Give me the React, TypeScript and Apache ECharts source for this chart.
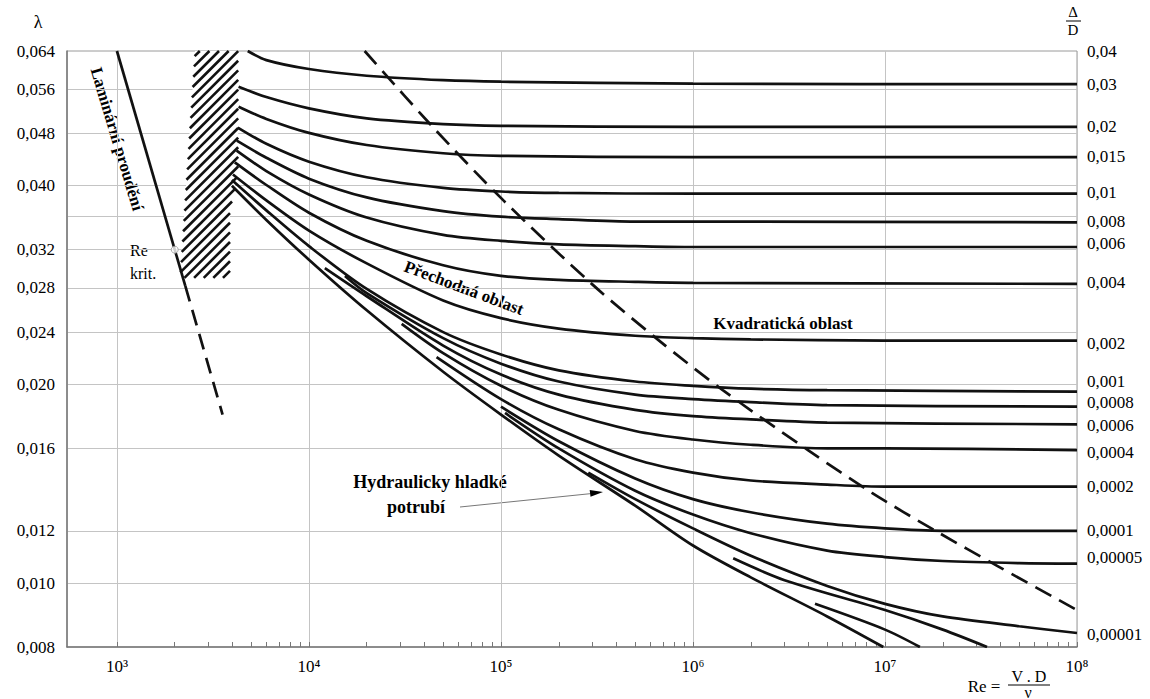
import React, { useEffect, useRef } from 'react';
import * as echarts from 'echarts';

const FONT = 'Liberation Serif';

// ---- axis ticks / labels ----
const Y_LABELS = [0.008, 0.01, 0.012, 0.016, 0.02, 0.024, 0.028, 0.032, 0.04, 0.048, 0.056, 0.064];
const Y_GRID = [0.01, 0.012, 0.016, 0.02, 0.024, 0.028, 0.032, 0.036, 0.04, 0.048, 0.056];
const RE_DECADES = [1e3, 1e4, 1e5, 1e6, 1e7, 1e8];
const RE_MINOR = [
  1e3, 2e3, 3e3, 4e3, 5e3, 6e3, 7e3, 8e3, 9e3,
  1e4, 2e4, 3e4, 4e4, 5e4, 6e4, 7e4, 8e4, 9e4,
  1e5, 2e5, 3e5, 4e5, 5e5, 6e5, 7e5, 8e5, 9e5,
  1e6, 2e6, 3e6, 4e6, 5e6, 6e6, 7e6, 8e6, 9e6,
  1e7, 2e7, 3e7, 4e7, 5e7, 6e7, 7e7, 8e7, 9e7, 1e8,
];
const RIGHT_LABELS = ['0,04', '0,03', '0,02', '0,015', '0,01', '0,008', '0,006', '0,004', '0,002', '0,001', '0,0008', '0,0006', '0,0004', '0,0002', '0,0001', '0,00005', '0,00001'];
const RIGHT_LABEL_POS = [0.064, 0.0569, 0.0492, 0.0443, 0.039, 0.0353, 0.0327, 0.0285, 0.0231, 0.0202, 0.01875, 0.0173, 0.01575, 0.0140, 0.0120, 0.01095, 0.00837];

// ---- curves: [Re, lambda] ----
const R_0_03 = [[4800, 0.064], [6000, 0.0620], [1e4, 0.0601], [2e4, 0.0587], [5e4, 0.0578], [1e5, 0.0575], [1e6, 0.0571], [1e8, 0.0570]];
const R_0_02 = [[4300, 0.0565], [6000, 0.0545], [1e4, 0.0524], [2e4, 0.0506], [5e4, 0.0496], [1e5, 0.0493], [1e6, 0.0491], [1e8, 0.0491]];
const R_0_015 = [[4300, 0.0527], [6000, 0.0505], [1e4, 0.0481], [2e4, 0.0461], [5e4, 0.0448], [1e5, 0.0444], [1e6, 0.0442], [1e8, 0.0442]];
const R_0_01 = [[4260, 0.0490], [6000, 0.0463], [1e4, 0.0435], [2e4, 0.0412], [5e4, 0.0397], [1e5, 0.0392], [2e5, 0.0390], [1e6, 0.0389], [1e8, 0.0389]];
const R_0_008 = [[4210, 0.0468], [6000, 0.0441], [1e4, 0.0410], [2e4, 0.0384], [5e4, 0.0366], [1e5, 0.0359], [2e5, 0.0356], [5e5, 0.0353], [1e6, 0.0353], [1e8, 0.0352]];
const R_0_006 = [[4200, 0.0452], [6000, 0.0421], [1e4, 0.0388], [2e4, 0.0358], [5e4, 0.0337], [1e5, 0.0330], [2e5, 0.0326], [5e5, 0.0324], [1e6, 0.0323], [1e8, 0.0323]];
const R_0_004 = [[4110, 0.0434], [6000, 0.0401], [1e4, 0.0364], [2e4, 0.0330], [5e4, 0.0303], [1e5, 0.0292], [2e5, 0.0288], [5e5, 0.0286], [1e6, 0.0285], [1e8, 0.0284]];
const R_0_002 = [[4020, 0.0416], [6000, 0.0380], [1e4, 0.0342], [2e4, 0.0305], [5e4, 0.0268], [1e5, 0.0252], [2e5, 0.0243], [5e5, 0.0237], [1e6, 0.0235], [2e6, 0.0234], [1e7, 0.0233], [1e8, 0.0233]];
const R_0_001 = [[3970, 0.0408], [6000, 0.0367], [1e4, 0.0324], [2e4, 0.0279], [5e4, 0.0240], [1e5, 0.0222], [2e5, 0.0210], [5e5, 0.0202], [1e6, 0.0199], [2e6, 0.0197], [5e6, 0.0196], [1e8, 0.0195]];
const R_0_0008 = [[1.54e4, 0.0292], [2e4, 0.0275], [5e4, 0.0235], [1e5, 0.0215], [2e5, 0.0202], [5e5, 0.0193], [1e6, 0.0190], [2e6, 0.0188], [5e6, 0.0186], [1e8, 0.0185]];
const R_0_0006 = [[1.21e4, 0.0300], [2e4, 0.0272], [5e4, 0.0229], [1e5, 0.0207], [2e5, 0.0193], [5e5, 0.0183], [1e6, 0.0179], [2e6, 0.0177], [5e6, 0.0175], [1e8, 0.0174]];
const R_0_0004 = [[3.04e4, 0.0247], [5e4, 0.0223], [1e5, 0.0199], [2e5, 0.0183], [5e5, 0.0170], [1e6, 0.0165], [2e6, 0.0162], [5e6, 0.0160], [1e7, 0.0160], [1e8, 0.0159]];
const R_0_0002 = [[4.62e4, 0.0220], [1e5, 0.0190], [2e5, 0.0171], [5e5, 0.0154], [1e6, 0.0147], [2e6, 0.0143], [5e6, 0.0141], [1e7, 0.0140], [1e8, 0.0140]];
const R_0_0001 = [[1.0e5, 0.0185], [2e5, 0.0164], [5e5, 0.0144], [1e6, 0.0134], [2e6, 0.0128], [5e6, 0.0123], [1e7, 0.0121], [2e7, 0.0120], [1e8, 0.0120]];
const R_0_00005 = [[1.05e5, 0.0181], [2e5, 0.0160], [5e5, 0.0138], [1e6, 0.0127], [2e6, 0.0119], [5e6, 0.0112], [1e7, 0.01095], [2e7, 0.0108], [5e7, 0.01072], [1e8, 0.0107]];
const R_0_00001 = [[2.85e5, 0.0147], [5e5, 0.0134], [1e6, 0.0121], [2e6, 0.0110], [5e6, 0.0099], [1e7, 0.0093], [2e7, 0.0089], [5e7, 0.0086], [1e8, 0.0084]];
const R_0_000005 = [[1.62e6, 0.0109], [3e6, 0.0101], [1e7, 0.0091], [2e7, 0.0085], [3.4e7, 0.0080]];
const R_0_000001 = [[4.32e6, 0.0093], [1e7, 0.0085], [1.52e7, 0.0080]];
const SMOOTH_PIPE = [[3970, 0.0400], [6000, 0.0355], [1e4, 0.0309], [2e4, 0.0259], [5e4, 0.0209], [1e5, 0.0180], [2e5, 0.0156], [5e5, 0.0131], [1e6, 0.0114], [2e6, 0.0102], [5e6, 0.0089], [9.8e6, 0.0080]];

const LAMINAR_SOLID = [[1000, 0.064], [2270, 0.0282]];
const LAMINAR_DASHED = [[2270, 0.0282], [3550, 0.0180]];
const RE_KRIT = [[2000, 0.032]];
const BOUNDARY = [[1.95e4, 0.064], [4.53e4, 0.0487], [1.03e5, 0.038], [2.97e5, 0.0284], [6.54e5, 0.0234], [1.43e6, 0.0196], [3.97e6, 0.0159], [8.55e6, 0.0137], [1.83e7, 0.0120], [3.88e7, 0.0106], [1e8, 0.0091]];
const HATCH_AREA = [[2550, 0.064], [4280, 0.064], [4280, 0.0423], [3880, 0.0365], [3880, 0.029], [2130, 0.029]];

const CURVES = [R_0_03, R_0_02, R_0_015, R_0_01, R_0_008, R_0_006, R_0_004, R_0_002, R_0_001, R_0_0008, R_0_0006, R_0_0004, R_0_0002, R_0_0001, R_0_00005, R_0_00001, R_0_000005, R_0_000001, SMOOTH_PIPE];

const SUP: Record<number, string> = { 3: '³', 4: '⁴', 5: '⁵', 6: '⁶', 7: '⁷', 8: '⁸' };

const INK = '#111';
const LW = 2.7;

export default function App() {
  const ref = useRef<HTMLDivElement>(null);
  useEffect(() => {
    document.body.style.margin = '0';
    const chart = echarts.init(ref.current as HTMLDivElement, undefined, { renderer: 'svg' });
    const txt = { fontFamily: FONT, fontSize: 17, color: '#000' };

    const curveSeries = CURVES.map((d) => ({
      type: 'line',
      data: d,
      smooth: 0.3,
      showSymbol: false,
      silent: true,
      clip: true,
      z: 3,
      lineStyle: { color: INK, width: LW },
    }));

    const hatch = {
      type: 'custom',
      silent: true,
      z: 2,
      data: [[3000, 0.04]],
      renderItem: (_p: any, api: any) => {
        const pts = HATCH_AREA.map((p) => api.coord(p));
        const ang = (45 * Math.PI) / 180;
        const d = [Math.cos(ang), -Math.sin(ang)];
        const n = [Math.sin(ang), Math.cos(ang)];
        const proj = pts.map((p: number[]) => p[0] * n[0] + p[1] * n[1]);
        const sMin = Math.min(...proj);
        const sMax = Math.max(...proj);
        const step = 6.8;
        const children: any[] = [
          { type: 'polygon', shape: { points: pts }, style: { fill: '#fff', stroke: null } },
        ];
        for (let s = sMin + step / 2; s < sMax; s += step) {
          const p0 = [n[0] * s, n[1] * s];
          const ts: number[] = [];
          for (let i = 0; i < pts.length; i++) {
            const A = pts[i];
            const B = pts[(i + 1) % pts.length];
            const e = [B[0] - A[0], B[1] - A[1]];
            const den = d[0] * e[1] - d[1] * e[0];
            if (Math.abs(den) < 1e-9) continue;
            const w = [A[0] - p0[0], A[1] - p0[1]];
            const t = (w[0] * e[1] - e[0] * w[1]) / den;
            const u = (w[0] * d[1] - d[0] * w[1]) / den;
            if (u >= 0 && u <= 1) ts.push(t);
          }
          if (ts.length >= 2) {
            const t1 = Math.min(...ts);
            const t2 = Math.max(...ts);
            children.push({
              type: 'line',
              shape: { x1: p0[0] + d[0] * t1, y1: p0[1] + d[1] * t1, x2: p0[0] + d[0] * t2, y2: p0[1] + d[1] * t2 },
              style: { stroke: INK, lineWidth: 2.6 },
            });
          }
        }
        return { type: 'group', children };
      },
    };

    const option: any = {
      animation: false,
      grid: { left: 67, right: 73, top: 51, bottom: 52, show: true, borderColor: '#9a9a9a', borderWidth: 1 },
      xAxis: [
        {
          type: 'log', logBase: 10, min: 549.5, max: 1e8,
          axisLine: { show: true, lineStyle: { color: '#777', width: 1.5 } },
          axisTick: { show: false, customValues: RE_DECADES },
          axisLabel: { ...txt, margin: 11, customValues: RE_DECADES, formatter: (v: number) => '10' + SUP[Math.round(Math.log10(v))] },
          splitLine: { show: true, lineStyle: { color: '#c4c4c4', width: 1 } },
        },
        {
          type: 'log', logBase: 10, min: 549.5, max: 1e8, position: 'bottom',
          axisLine: { show: false },
          axisLabel: { show: false },
          splitLine: { show: false },
          axisTick: { show: true, inside: true, length: 5, customValues: RE_MINOR, lineStyle: { color: '#777', width: 1 } },
        },
      ],
      yAxis: [
        {
          type: 'log', logBase: 10, min: 0.008, max: 0.064,
          axisLine: { show: true, lineStyle: { color: '#777', width: 1.5 } },
          axisTick: { show: false, customValues: Y_GRID },
          axisLabel: { ...txt, margin: 12, customValues: Y_LABELS, formatter: (v: number) => v.toFixed(3).replace('.', ',') },
          splitLine: { show: true, lineStyle: { color: '#c4c4c4', width: 1 } },
        },
        {
          type: 'log', logBase: 10, min: 0.008, max: 0.064, position: 'right',
          axisLine: { show: false },
          axisTick: { show: false },
          splitLine: { show: false },
          axisLabel: {
            ...txt, margin: 10, customValues: RIGHT_LABEL_POS,
            formatter: (v: number) => {
              let best = 0;
              let bd = Infinity;
              RIGHT_LABEL_POS.forEach((p, i) => {
                const dd = Math.abs(Math.log(p) - Math.log(v));
                if (dd < bd) { bd = dd; best = i; }
              });
              return RIGHT_LABELS[best];
            },
          },
        },
      ],
      series: [
        hatch,
        ...curveSeries,
        { type: 'line', data: LAMINAR_SOLID, showSymbol: false, silent: true, z: 4, lineStyle: { color: INK, width: LW } },
        { type: 'line', data: LAMINAR_DASHED, showSymbol: false, silent: true, z: 4, lineStyle: { color: INK, width: LW, type: [16, 9] } },
        { type: 'line', data: BOUNDARY, smooth: 0.3, showSymbol: false, silent: true, z: 4, lineStyle: { color: INK, width: LW, type: [18, 9] } },
        { type: 'scatter', data: RE_KRIT, symbol: 'circle', symbolSize: 7, silent: true, z: 5, itemStyle: { color: '#fff', borderColor: '#999', borderWidth: 1 } },
      ],
      graphic: [
        { type: 'text', x: 38, y: 22, style: { text: 'λ', font: `18px ${FONT}`, fill: '#000', align: 'center', verticalAlign: 'middle' } },
        { type: 'text', x: 1073, y: 12, style: { text: 'Δ', font: `15px ${FONT}`, fill: '#000', align: 'center', verticalAlign: 'middle' } },
        { type: 'line', shape: { x1: 1066, y1: 21, x2: 1081, y2: 21 }, style: { stroke: '#000', lineWidth: 1 } },
        { type: 'text', x: 1073, y: 30, style: { text: 'D', font: `15px ${FONT}`, fill: '#000', align: 'center', verticalAlign: 'middle' } },
        { type: 'text', x: 984, y: 686, style: { text: 'Re =', font: `17px ${FONT}`, fill: '#000', align: 'center', verticalAlign: 'middle' } },
        { type: 'text', x: 1029, y: 676, style: { text: 'V . D', font: `16px ${FONT}`, fill: '#000', align: 'center', verticalAlign: 'middle' } },
        { type: 'line', shape: { x1: 1008, y1: 685, x2: 1050, y2: 685 }, style: { stroke: '#000', lineWidth: 1 } },
        { type: 'text', x: 1028, y: 692, style: { text: 'ν', font: `16px ${FONT}`, fill: '#000', align: 'center', verticalAlign: 'middle' } },
        { type: 'text', x: 117, y: 139, rotation: -1.28, style: { text: 'Laminární proudění', font: `bold 17px ${FONT}`, fill: '#000', align: 'center', verticalAlign: 'middle' } },
        { type: 'text', x: 130, y: 250, style: { text: 'Re', font: `16px ${FONT}`, fill: '#000', align: 'left', verticalAlign: 'middle' } },
        { type: 'text', x: 130, y: 273, style: { text: 'krit.', font: `16px ${FONT}`, fill: '#000', align: 'left', verticalAlign: 'middle' } },
        { type: 'text', x: 464, y: 288, rotation: -0.36, style: { text: 'Přechodná oblast', font: `bold 17px ${FONT}`, fill: '#000', align: 'center', verticalAlign: 'middle' } },
        { type: 'text', x: 783, y: 323, style: { text: 'Kvadratická oblast', font: `bold 17px ${FONT}`, fill: '#000', align: 'center', verticalAlign: 'middle' } },
        { type: 'text', x: 430, y: 482, style: { text: 'Hydraulicky hladké', font: `bold 18px ${FONT}`, fill: '#000', align: 'center', verticalAlign: 'middle' } },
        { type: 'text', x: 416, y: 507, style: { text: 'potrubí', font: `bold 18px ${FONT}`, fill: '#000', align: 'center', verticalAlign: 'middle' } },
        { type: 'line', shape: { x1: 460, y1: 507, x2: 592, y2: 493.5 }, style: { stroke: '#777', lineWidth: 1 } },
        { type: 'polygon', shape: { points: [[603, 492], [590.5, 496.8], [589.7, 489.9]] }, style: { fill: '#000' } },
      ],
    };
    chart.setOption(option);
    return () => chart.dispose();
  }, []);
  return <div ref={ref} style={{ width: 1150, height: 699 }} />;
}
